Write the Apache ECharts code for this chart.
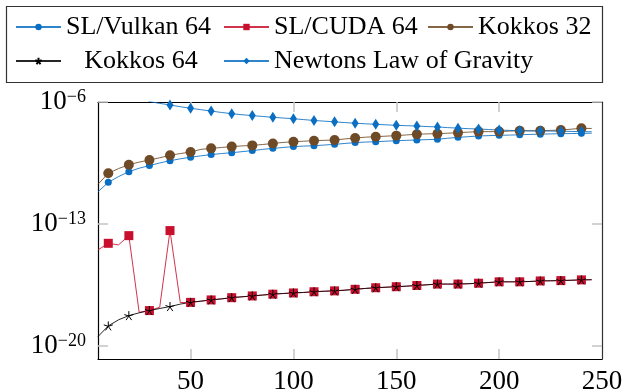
<!DOCTYPE html>
<html>
<head>
<meta charset="utf-8">
<script src="https://cdn.jsdelivr.net/npm/echarts@6/dist/echarts.min.js"></script>
<style>html,body{margin:0;padding:0;background:#fff}#c{width:627px;height:392px}</style>
</head>
<body>
<div id="c"></div>
<script>
// x positions (data every 5, markers every 10)
const xs = [5,10,15,20,25,30,35,40,45,50,55,60,65,70,75,80,85,90,95,100,105,110,115,120,125,130,135,140,145,150,155,160,165,170,175,180,185,190,195,200,205,210,215,220,225,230,235,240,245];
// log10 of the values
const vulkan64Exp = [-11.15,-10.61,-10.28,-10.0,-9.8,-9.65,-9.5,-9.37,-9.26,-9.17,-9.09,-9.02,-8.96,-8.91,-8.85,-8.79,-8.72,-8.66,-8.61,-8.56,-8.53,-8.51,-8.47,-8.43,-8.38,-8.33,-8.30,-8.28,-8.25,-8.22,-8.20,-8.18,-8.16,-8.14,-8.08,-8.03,-7.99,-7.95,-7.93,-7.91,-7.90,-7.88,-7.86,-7.85,-7.83,-7.82,-7.81,-7.80,-7.79];
const slCuda64Exp = [-14.49,-14.11,-14.2,-13.67,-18.07,-17.97,-17.78,-13.38,-17.51,-17.5,-17.43,-17.36,-17.3,-17.23,-17.18,-17.13,-17.08,-17.03,-16.99,-16.96,-16.93,-16.89,-16.86,-16.84,-16.8,-16.75,-16.7,-16.66,-16.63,-16.60,-16.57,-16.53,-16.49,-16.45,-16.45,-16.45,-16.43,-16.40,-16.36,-16.32,-16.32,-16.32,-16.30,-16.27,-16.26,-16.25,-16.23,-16.21,-16.2];
const kokkos32Exp = [-10.72,-10.09,-9.82,-9.6,-9.45,-9.33,-9.2,-9.06,-8.96,-8.87,-8.72,-8.66,-8.61,-8.56,-8.52,-8.49,-8.44,-8.38,-8.32,-8.28,-8.25,-8.22,-8.20,-8.18,-8.12,-8.07,-8.02,-7.99,-7.96,-7.93,-7.89,-7.85,-7.83,-7.82,-7.79,-7.76,-7.73,-7.70,-7.70,-7.70,-7.67,-7.65,-7.65,-7.65,-7.63,-7.61,-7.56,-7.51,-7.52];
const kokkos64Exp = [-19.46,-18.85,-18.5,-18.26,-18.1,-17.97,-17.85,-17.74,-17.6,-17.5,-17.43,-17.36,-17.3,-17.23,-17.18,-17.13,-17.08,-17.03,-16.99,-16.96,-16.93,-16.89,-16.86,-16.84,-16.8,-16.75,-16.7,-16.66,-16.63,-16.60,-16.57,-16.53,-16.49,-16.45,-16.45,-16.45,-16.43,-16.40,-16.36,-16.32,-16.32,-16.32,-16.30,-16.27,-16.26,-16.25,-16.23,-16.21,-16.2];
const newtonExp = [-4.3,-4.7,-5.1,-5.4,-5.65,-5.97,-6.08,-6.17,-6.27,-6.36,-6.44,-6.52,-6.6,-6.67,-6.73,-6.78,-6.83,-6.88,-6.92,-6.96,-7.01,-7.06,-7.10,-7.14,-7.18,-7.22,-7.25,-7.28,-7.31,-7.34,-7.36,-7.38,-7.41,-7.43,-7.47,-7.50,-7.53,-7.55,-7.58,-7.61,-7.63,-7.65,-7.66,-7.66,-7.67,-7.68,-7.69,-7.70,-7.71];

const seriesNames = ['SL/Vulkan 64','SL/CUDA 64','Kokkos 32','Kokkos 64','Newtons Law of Gravity'];
const xTicks = [50,100,150,200,250];
const yTickExps = [-20,-13,-6];
const yMinExp = -20.75, yMaxExp = -6;

const FONT = 'Liberation Serif';
function toData(exps){
  return xs.map((x,i)=>{
    const item = {value:[x, Math.pow(10, exps[i])]};
    if (i % 2 === 0) item.symbol = 'none';
    return item;
  });
}
const starPath = 'path://M0,0L0,-1M0,0L0.951,-0.309M0,0L0.588,0.809M0,0L-0.588,0.809M0,0L-0.951,-0.309';
const yTicks = yTickExps.map(e=>Math.pow(10,e));
const yMin = Math.pow(10,yMinExp), yMax = Math.pow(10,yMaxExp);

function mkSeries(name, exps, color, symbol, size, extra){
  return Object.assign({
    name, type:'line', data: toData(exps), showAllSymbol:true,
    symbol, symbolSize:size, clip:true,
    lineStyle:{color, width:1, opacity:0.85},
    itemStyle:{color},
    emphasis:{disabled:true}, animation:false
  }, extra||{});
}

const legendKey = {'SL/Vulkan 64':'c1','Kokkos 64':'c1c','SL/CUDA 64':'c2','Newtons Law of Gravity':'c2','Kokkos 32':'c3'};
const legendText = {
  fontFamily:FONT, fontSize:26, color:'#000',
  rich:{
    c1:{fontFamily:FONT,fontSize:26,width:150,align:'left',lineHeight:28},
    c1c:{fontFamily:FONT,fontSize:26,width:150,align:'center',lineHeight:28},
    c2:{fontFamily:FONT,fontSize:26,width:146,align:'left',lineHeight:28},
    c3:{fontFamily:FONT,fontSize:26,align:'left',lineHeight:28}
  }
};
const legendBase = {
  orient:'horizontal', padding:0, itemWidth:45, itemHeight:8, itemGap:7,
  textStyle:legendText, selectedMode:false,
  formatter: n => '{'+legendKey[n]+'|'+n+'}'
};

const chart = echarts.init(document.getElementById('c'), null, {renderer:'canvas'});
chart.setOption({
  animation:false,
  backgroundColor:'#fff',
  grid:{left:98, right:25, top:102, bottom:33, containLabel:false, outerBoundsMode:'none'},
  legend:[
    Object.assign({}, legendBase, {left:15, top:14, data:seriesNames.slice(0,3)}),
    Object.assign({}, legendBase, {left:15, top:48, data:seriesNames.slice(3)})
  ],
  graphic:[{type:'rect', shape:{x:6.5,y:6.5,width:596,height:76}, style:{fill:'none', stroke:'#333', lineWidth:1.2}, silent:true}],
  xAxis:[{
    type:'value', min:5, max:250, position:'bottom',
    axisLine:{show:true, onZero:false, lineStyle:{color:'#000', width:1.2}},
    axisTick:{show:true, inside:true, length:10, customValues:xTicks.slice(0,4), lineStyle:{color:'#c4c4c4', width:1.5}},
    axisLabel:{show:true, customValues:xTicks, margin:9, fontFamily:FONT, fontSize:27, color:'#000'},
    splitLine:{show:false}
  },{
    type:'value', min:5, max:250, position:'top',
    axisLine:{show:true, onZero:false, lineStyle:{color:'#000', width:1.2}},
    axisTick:{show:true, inside:true, length:10, customValues:xTicks.slice(0,4), lineStyle:{color:'#c4c4c4', width:1.5}},
    axisLabel:{show:false}, splitLine:{show:false}
  }],
  yAxis:[{
    type:'log', logBase:10, min:yMin, max:yMax, position:'left',
    axisLine:{show:true, onZero:false, lineStyle:{color:'#000', width:1.2}},
    axisTick:{show:true, inside:true, length:10, customValues:yTicks, lineStyle:{color:'#c4c4c4', width:1.5}},
    axisLabel:{show:true, customValues:yTicks, margin:12, fontFamily:FONT, color:'#000',
      formatter: v => { const e = Math.round(Math.log10(v)); return '{b|10}{s|\u2212'+(-e)+'}'; },
      rich:{
        b:{fontFamily:FONT, fontSize:27, lineHeight:27, verticalAlign:'bottom', color:'#000'},
        s:{fontFamily:FONT, fontSize:18, lineHeight:18, verticalAlign:'top', color:'#000'}
      }
    },
    splitLine:{show:false}, minorTick:{show:false}
  },{
    type:'log', logBase:10, min:yMin, max:yMax, position:'right',
    axisLine:{show:true, onZero:false, lineStyle:{color:'#333', width:1.2}},
    axisTick:{show:true, inside:true, length:10, customValues:yTicks, lineStyle:{color:'#c4c4c4', width:1.5}},
    axisLabel:{show:false}, splitLine:{show:false}
  }],
  series:[
    mkSeries(seriesNames[0], vulkan64Exp, '#0a6fc2', 'circle', 7),
    mkSeries(seriesNames[1], slCuda64Exp, '#c8102e', 'rect', 9),
    mkSeries(seriesNames[2], kokkos32Exp, '#6f4a26', 'circle', 10),
    mkSeries(seriesNames[3], kokkos64Exp, '#000000', starPath, 9, {itemStyle:{color:'#000', borderColor:'#000', borderWidth:1}}),
    mkSeries(seriesNames[4], newtonExp, '#0a6fc2', 'diamond', [7,11])
  ]
});
</script>
</body>
</html>
